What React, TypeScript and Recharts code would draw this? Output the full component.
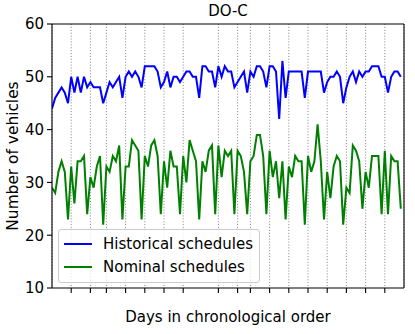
import { CartesianGrid, Line, LineChart, ReferenceLine, XAxis, YAxis } from "recharts";

const historical = [
  44, 46, 47, 48, 47, 45, 50, 47, 50, 47, 50, 48, 49, 48, 48, 48, 45, 47, 49, 48, 49, 50, 46,
  50, 51, 50, 51, 50, 48, 52, 52, 52, 52, 51, 48, 49, 51, 48, 50, 50, 49, 50, 51, 51, 50,
  50, 46, 52, 52, 51, 51, 48, 52, 50, 52, 51, 51, 48, 49, 50, 51, 47, 51, 50, 52, 52,
  51, 48, 52, 52, 51, 42, 53, 46, 51, 51, 51, 51, 51, 46, 51, 51, 51, 51, 51, 47, 49, 50,
  50, 51, 50, 45, 48, 50, 51, 49, 51, 50, 51, 51, 52, 52, 52, 50, 50, 47, 50, 51, 51, 50,
];

const nominal = [
  29, 28, 32, 34, 32, 23, 33, 26, 34, 34, 35, 24, 31, 29, 33, 35, 22, 33, 32, 35, 34, 37, 23,
  33, 33, 38, 37, 36, 23, 35, 33, 37, 38, 35, 24, 34, 29, 36, 33, 33, 24, 35, 30, 38, 36,
  34, 23, 34, 32, 36, 37, 24, 37, 31, 36, 35, 36, 24, 36, 35, 32, 24, 34, 35, 39, 39,
  35, 24, 36, 31, 34, 27, 34, 23, 33, 31, 35, 34, 34, 22, 35, 32, 34, 41, 34, 23, 32, 27,
  33, 35, 34, 22, 29, 28, 37, 36, 34, 25, 32, 29, 35, 35, 35, 24, 36, 24, 35, 34, 34, 25,
];

// day positions of the dotted week lines
const gridDays = [6, 12, 17, 23, 29, 35, 41, 52, 58, 62, 68, 74, 80, 86, 92, 98, 104];
const yTicks = [10, 20, 30, 40, 50, 60];

const seriesNames = ["Historical schedules", "Nominal schedules"];
const seriesColors = ["#0000ff", "#008000"];

const FONT = "'DejaVu Sans', sans-serif";
const FS = 15;

const data = historical.map((h, i) => ({ day: i, historical: h, nominal: nominal[i] }));

export default function App() {
  return (
    <div style={{ position: "absolute", left: 0, top: 0, width: 415, height: 334, background: "#fff", fontFamily: FONT }}>
      <LineChart width={415} height={334} data={data} margin={{ top: 24, right: 11, bottom: 0, left: 0 }}>
        <CartesianGrid horizontal={false} stroke="#8c8c8c" strokeDasharray="1.1 1.8" strokeWidth={1} />
        <XAxis
          dataKey="day"
          type="number"
          domain={[0, 110]}
          ticks={gridDays}
          tickFormatter={() => ""}
          tickSize={5}
          height={46}
          axisLine={{ stroke: "#000", strokeWidth: 1.1 }}
          tickLine={{ stroke: "#000", strokeWidth: 1.1 }}
          allowDataOverflow
        />
        <YAxis
          type="number"
          domain={[10, 60]}
          ticks={yTicks}
          width={52}
          tickSize={5}
          tickMargin={3}
          axisLine={{ stroke: "#000", strokeWidth: 1.1 }}
          tickLine={{ stroke: "#000", strokeWidth: 1.1 }}
          tick={{ fill: "#000", fontSize: FS, fontFamily: FONT }}
          allowDataOverflow
        />
        <ReferenceLine y={60} stroke="#000" strokeWidth={1.1} />
        <ReferenceLine x={110} stroke="#000" strokeWidth={1.1} />
        <Line type="linear" dataKey="historical" stroke={seriesColors[0]} strokeWidth={2} dot={false} isAnimationActive={false} />
        <Line type="linear" dataKey="nominal" stroke={seriesColors[1]} strokeWidth={2} dot={false} isAnimationActive={false} />
      </LineChart>

      <div style={{ position: "absolute", left: 0, width: 456, top: 2, textAlign: "center", fontSize: FS }}>DO-C</div>
      <div style={{ position: "absolute", left: 0, width: 456, top: 308, textAlign: "center", fontSize: FS }}>
        Days in chronological order
      </div>
      <div
        style={{
          position: "absolute",
          left: 13,
          top: 156,
          fontSize: 15.4,
          whiteSpace: "nowrap",
          transform: "translate(-50%, -50%) rotate(-90deg)",
        }}
      >
        Number of vehicles
      </div>

      <div
        style={{
          position: "absolute",
          left: 58,
          top: 229,
          width: 200,
          height: 52,
          border: "1px solid #ccc",
          borderRadius: 3,
          background: "rgba(255,255,255,0.8)",
          fontSize: FS,
        }}
      >
        {seriesNames.map((name, i) => (
          <div key={name} style={{ position: "absolute", left: 5, top: 5 + i * 23, height: 18, display: "flex", alignItems: "center" }}>
            <div style={{ width: 28, borderTop: `2px solid ${seriesColors[i]}` }} />
            <span style={{ marginLeft: 11, whiteSpace: "nowrap" }}>{name}</span>
          </div>
        ))}
      </div>
    </div>
  );
}
